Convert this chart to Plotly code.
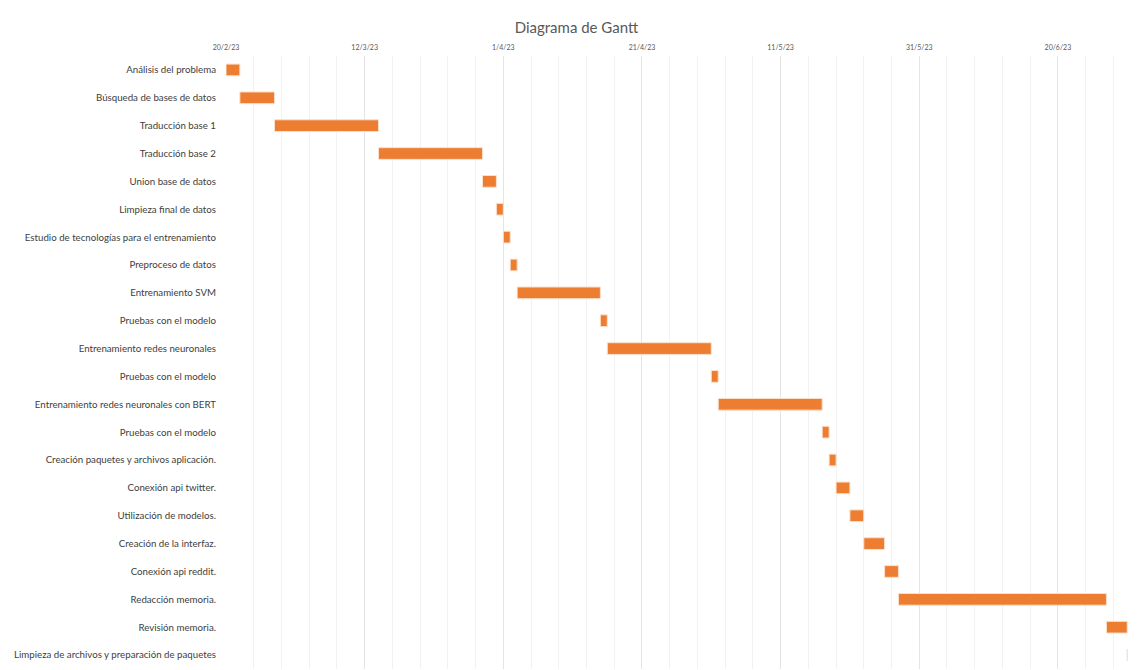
import pandas as pd
import plotly.graph_objects as go

# Project tasks (top to bottom) with start and end dates
tasks = [
    "Análisis del problema",
    "Búsqueda de bases de datos",
    "Traducción base 1",
    "Traducción base 2",
    "Union base de datos",
    "Limpieza final de datos",
    "Estudio de tecnologías para el entrenamiento",
    "Preproceso de datos",
    "Entrenamiento SVM",
    "Pruebas con el modelo",
    "Entrenamiento redes neuronales",
    "Pruebas con el modelo",
    "Entrenamiento redes neuronales con BERT",
    "Pruebas con el modelo",
    "Creación paquetes y archivos aplicación.",
    "Conexión api twitter.",
    "Utilización de modelos.",
    "Creación de la interfaz.",
    "Conexión api reddit.",
    "Redacción memoria.",
    "Revisión memoria.",
    "Limpieza de archivos y preparación de paquetes",
]

starts = [
    "2023-02-20", "2023-02-22", "2023-02-27", "2023-03-14", "2023-03-29",
    "2023-03-31", "2023-04-01", "2023-04-02", "2023-04-03", "2023-04-15",
    "2023-04-16", "2023-05-01", "2023-05-02", "2023-05-17", "2023-05-18",
    "2023-05-19", "2023-05-21", "2023-05-23", "2023-05-26", "2023-05-28",
    "2023-06-27", "2023-06-30",
]

ends = [
    "2023-02-22", "2023-02-27", "2023-03-14", "2023-03-29", "2023-03-31",
    "2023-04-01", "2023-04-02", "2023-04-03", "2023-04-15", "2023-04-16",
    "2023-05-01", "2023-05-02", "2023-05-17", "2023-05-18", "2023-05-19",
    "2023-05-21", "2023-05-23", "2023-05-26", "2023-05-28", "2023-06-27",
    "2023-06-30", "2023-06-30",
]

axis_start = "2023-02-20"
axis_end = "2023-06-30 20:00"

DAY_MS = 24 * 3600 * 1000

start_ts = pd.to_datetime(starts)
end_ts = pd.to_datetime(ends)
durations = [(e - s).total_seconds() * 1000 for s, e in zip(start_ts, end_ts)]
rows = list(range(len(tasks)))

fig = go.Figure(
    go.Bar(
        y=rows,
        x=durations,
        base=[s.strftime("%Y-%m-%d") for s in start_ts],
        orientation="h",
        width=0.42,
        marker=dict(color="#ED7D31", line=dict(color="#FBE0CC", width=1)),
        hovertext=tasks,
        showlegend=False,
    )
)

font_family = "Lato, 'Liberation Sans', sans-serif"

fig.update_layout(
    width=1137,
    height=670,
    margin=dict(l=226, r=4, t=56, b=1),
    paper_bgcolor="white",
    plot_bgcolor="white",
    title=dict(
        text="Diagrama de Gantt",
        x=0.507,
        xanchor="center",
        y=1 - 28 / 670,
        yanchor="middle",
        font=dict(family=font_family, size=15, color="#595959"),
    ),
    xaxis=dict(
        type="date",
        side="top",
        range=[axis_start, axis_end],
        tick0=axis_start,
        dtick=20 * DAY_MS,
        tickformat="%-d/%-m/%y",
        tickfont=dict(family=font_family, size=7, color="#595959"),
        showgrid=True,
        gridcolor="#E4E4E4",
        gridwidth=1,
        minor=dict(dtick=4 * DAY_MS, tick0=axis_start, showgrid=True,
                   gridcolor="#F2F2F2", gridwidth=1),
        showline=False,
        zeroline=False,
        ticks="",
        ticklabelstandoff=4,
    ),
    yaxis=dict(
        tickvals=rows,
        ticktext=tasks,
        range=[len(tasks) - 0.5, -0.5],
        tickfont=dict(family=font_family, size=9.7, color="#404040"),
        showgrid=False,
        showline=False,
        zeroline=False,
        ticks="",
        ticklabelstandoff=9,
    ),
)

fig.write_html("out.html")
